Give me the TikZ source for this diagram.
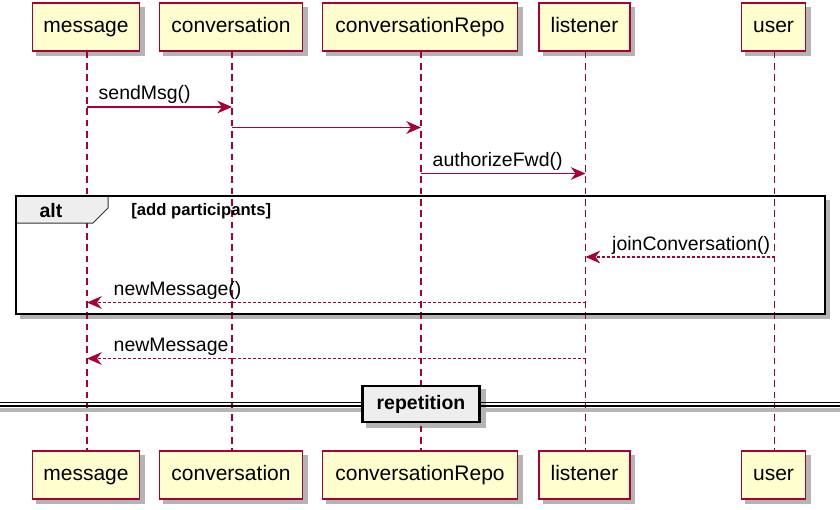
\documentclass[tikz,border=0pt]{standalone}
\usepackage{fontspec}
\setmainfont{Liberation Sans}
\usetikzlibrary{arrows.meta, positioning, backgrounds}
\definecolor{umlred}{HTML}{A80036}
\definecolor{umlfill}{HTML}{FEFECE}
\definecolor{umlgray}{HTML}{EEEEEE}
\definecolor{umlshadow}{HTML}{B4B4B4}

\begin{document}
\begin{tikzpicture}[
  x=0.75pt, y=-0.75pt,
  part/.style={
    rectangle, draw=umlred, fill=umlfill, line width=1.1pt,
    minimum height=36pt, inner sep=0pt, text height=11.5pt, text depth=3.5pt,
    font=\fontsize{15.75}{18}\selectfont,
  },
  shadowbox/.style={fill=umlshadow},
  lifeline/.style={umlred, line width=0.8pt, dash pattern=on 5pt off 3.5pt},
  msg/.style={umlred, line width=1.1pt,
    -{Stealth[length=11pt, width=9.5pt, inset=3.5pt]}},
  reply/.style={msg, dash pattern=on 2.25pt off 1.5pt},
  lbl/.style={black, inner sep=0pt, anchor=base west, yshift=5.25pt,
    font=\fontsize{14.6}{17}\selectfont},
  frame/.style={draw=black, line width=2pt},
  tab/.style={draw=black!80, fill=umlgray, line width=0.75pt},
  sepbox/.style={
    rectangle, draw=black, fill=umlgray, line width=2pt,
    minimum width=88pt, minimum height=27pt, inner sep=0pt,
    font=\fontsize{14.6}{17}\selectfont\bfseries,
  },
]
  \useasboundingbox (0,0) rectangle (840,510);

  % Participants
  \node[part, minimum width=80.25pt] (msgTop) at (86,27) {message};
  \node[part, minimum width=107.25pt] (convTop) at (231,27) {conversation};
  \node[part, minimum width=146.25pt] (repoTop) at (420,27) {conversationRepo};
  \node[part, minimum width=68.25pt] (lisTop) at (584.5,27) {listener};
  \node[part, minimum width=48pt] (userTop) at (773.5,27) {user};

  \node[part, minimum width=80.25pt] (msgBot) at (86,475) {message};
  \node[part, minimum width=107.25pt] (convBot) at (231,475) {conversation};
  \node[part, minimum width=146.25pt] (repoBot) at (420,475) {conversationRepo};
  \node[part, minimum width=68.25pt] (lisBot) at (584.5,475) {listener};
  \node[part, minimum width=48pt] (userBot) at (773.5,475) {user};

  % Alt frame background
  \fill[shadowbox] (20,200) rectangle (830,319);
  \fill[white] (16,196) rectangle (825,314);

  % Lifelines
  \foreach \p in {msg, conv, repo, lis, user}
    \draw[lifeline] ([xshift=0.75pt]\p Top.south) -- ([xshift=0.75pt]\p Bot.north);

  % Alt frame
  \draw[tab] (16,196) -- (108,196) -- (108,208) -- (93,223) -- (16,223) -- cycle;
  \draw[frame] (16,196) rectangle (825,314);
  \node[font=\fontsize{14.6}{17}\selectfont\bfseries] (altLbl) at (51,211) {alt};
  \node[font=\fontsize{12.5}{15}\selectfont\bfseries, anchor=west, inner sep=0pt]
    (altCond) at (131,211) {[add participants]};

  % Message rows
  \coordinate (r1) at (0,107);
  \coordinate (r2) at (0,127.5);
  \coordinate (r3) at (0,173.5);
  \coordinate (r4) at (0,257);
  \coordinate (r5) at (0,302.5);
  \coordinate (r6) at (0,358.5);

  % Messages
  \draw[msg] ([xshift=0.75pt]msgTop.south |- r1) -- ([xshift=0.75pt]convTop.south |- r1)
    node[lbl, pos=0, xshift=8.25pt] {sendMsg()};
  \draw[msg] ([xshift=0.75pt]convTop.south |- r2) -- ([xshift=0.75pt]repoTop.south |- r2);
  \draw[msg] ([xshift=0.75pt]repoTop.south |- r3) -- ([xshift=0.75pt]lisTop.south |- r3)
    node[lbl, pos=0, xshift=8.25pt] {authorizeFwd()};
  \draw[reply] ([xshift=0.75pt]userTop.south |- r4) -- ([xshift=0.75pt]lisTop.south |- r4)
    node[lbl, pos=1, xshift=19.5pt] {joinConversation()};
  \draw[reply] ([xshift=0.75pt]lisTop.south |- r5) -- ([xshift=0.75pt]msgTop.south |- r5)
    node[lbl, pos=1, xshift=19.5pt] {newMessage()};
  \draw[reply] ([xshift=0.75pt]lisTop.south |- r6) -- ([xshift=0.75pt]msgTop.south |- r6)
    node[lbl, pos=1, xshift=19.5pt] {newMessage};

  % Divider
  \draw[umlshadow, line width=3pt] (0,409.5) -- (840,409.5);
  \draw[black, line width=1pt] (0,402.5) -- (840,402.5);
  \draw[black, line width=1pt] (0,406) -- (840,406);
  \node[sepbox] (repBox) at (421,404) {repetition};

  % Shadows
  \begin{scope}[on background layer]
    \foreach \b in {msgTop, convTop, repoTop, lisTop, userTop,
                    msgBot, convBot, repoBot, lisBot, userBot, repBox}
      \fill[shadowbox] ([shift={(3.5pt,-3.5pt)}]\b.south west)
        rectangle ([shift={(3.5pt,-3.5pt)}]\b.north east);
  \end{scope}

\end{tikzpicture}
\end{document}
